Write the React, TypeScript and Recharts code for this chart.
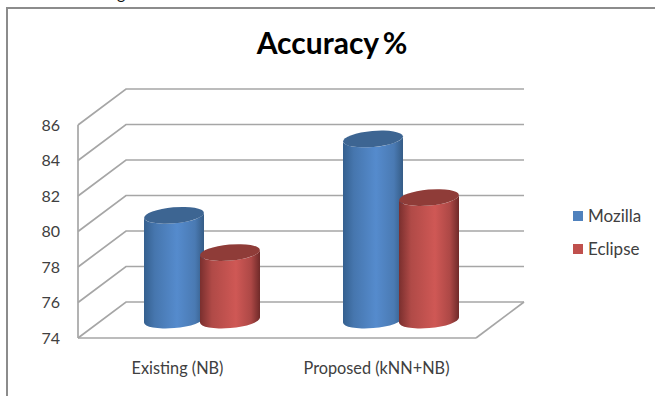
import { BarChart, Bar, CartesianGrid, Legend, XAxis, YAxis } from "recharts";

const categories = ["Existing (NB)", "Proposed (kNN+NB)"];
const mozilla = [79.9, 84.2];
const eclipse = [77.8, 80.9];
const accuracyTicks = [74, 76, 78, 80, 82, 84, 86];

const data = categories.map((name, i) => ({
  name,
  Mozilla: mozilla[i],
  Eclipse: eclipse[i],
}));

const FONT = "Lato, 'Open Sans', sans-serif";
const GRID = "#a6a6a6";
const TEXT = "#404040";

// the floor recedes this far behind the axis plane
const DEPTH_X = 48;
const DEPTH_Y = 36;
const PLOT_BOTTOM = 338;

// one grid line: up the side wall, then along the back wall
function WallLine({ x1, y1, x2 }: any) {
  const floor = Math.abs(y1 - PLOT_BOTTOM) < 1;
  const bx = x1 + DEPTH_X;
  const by = y1 - DEPTH_Y;
  return (
    <g fill="none" stroke={GRID} strokeWidth={1.7}>
      <polyline points={`${x1},${y1} ${bx},${by} ${x2 + DEPTH_X},${by}`} />
      {floor && <line x1={x2} y1={y1} x2={x2 + DEPTH_X} y2={by} />}
    </g>
  );
}

// bars stand halfway into the floor, so the rect is shifted by half the depth
function Cylinder({ x, y, width, height, body, top }: any) {
  const left = x + DEPTH_X / 2;
  const right = left + width;
  const topY = y - DEPTH_Y / 2;
  const baseY = y + height - DEPTH_Y / 2;
  const rx = width / 2;
  const ry = 8;
  const tilt = 2.5;
  return (
    <g>
      <path
        d={`M${left},${topY + tilt} L${left},${baseY + tilt}
            A${rx},${ry} -5 0 0 ${right},${baseY - tilt}
            L${right},${topY - tilt}
            A${rx},${ry} -5 0 1 ${left},${topY + tilt} Z`}
        fill={`url(#${body})`}
      />
      <ellipse
        cx={left + rx}
        cy={topY}
        rx={rx}
        ry={ry}
        fill={top}
        transform={`rotate(-5 ${left + rx} ${topY})`}
      />
    </g>
  );
}

function LegendBox({ payload }: any) {
  return (
    <div style={{ fontFamily: FONT, fontSize: 17, color: TEXT }}>
      {payload.map((item: any) => (
        <div key={item.value} style={{ display: "flex", alignItems: "center", height: 33 }}>
          <span
            style={{ width: 10, height: 10, background: item.color, marginRight: 5 }}
          />
          {item.value}
        </div>
      ))}
    </div>
  );
}

export default function App() {
  return (
    <div
      style={{
        position: "absolute",
        left: 0,
        top: 0,
        width: 655,
        height: 396,
        background: "#fff",
        overflow: "hidden",
      }}
    >
      <div
        style={{
          position: "absolute",
          left: 117,
          top: -17,
          fontFamily: FONT,
          fontSize: 16,
          color: "#111",
        }}
      >
        g
      </div>
      <div
        style={{
          position: "absolute",
          left: 6,
          top: 7,
          width: 660,
          height: 400,
          borderLeft: "2px solid #8c8c8c",
          borderTop: "2px solid #8c8c8c",
        }}
      />
      <div
        style={{
          position: "absolute",
          left: 0,
          width: 664,
          top: 24,
          textAlign: "center",
          fontFamily: FONT,
          fontWeight: 700,
          fontSize: 30,
          wordSpacing: -3,
          lineHeight: "36px",
          color: "#000",
        }}
      >
        Accuracy %
      </div>
      <BarChart
        width={655}
        height={396}
        data={data}
        margin={{ top: 125, right: 99, left: 38, bottom: 28 }}
        barSize={60}
        barGap={-4}
        style={{ position: "absolute", left: 0, top: 0 }}
      >
        <defs>
          <linearGradient id="mozillaBody" x1="0" y1="0" x2="1" y2="0">
            <stop offset="0" stopColor="#35608f" />
            <stop offset="0.18" stopColor="#4676ae" />
            <stop offset="0.55" stopColor="#558bcd" />
            <stop offset="0.85" stopColor="#4a7ab3" />
            <stop offset="1" stopColor="#355c86" />
          </linearGradient>
          <linearGradient id="eclipseBody" x1="0" y1="0" x2="1" y2="0">
            <stop offset="0" stopColor="#7a2f2e" />
            <stop offset="0.2" stopColor="#b04a47" />
            <stop offset="0.6" stopColor="#cf5855" />
            <stop offset="0.85" stopColor="#ad4846" />
            <stop offset="1" stopColor="#6f2a29" />
          </linearGradient>
        </defs>
        <CartesianGrid vertical={false} horizontal={(props: any) => <WallLine {...props} key={props.key} />} />
        <XAxis
          dataKey="name"
          axisLine={{ stroke: GRID, strokeWidth: 1.7 }}
          tickLine={false}
          tickMargin={18}
          height={30}
          tick={{ fill: TEXT, fontSize: 16.3, fontFamily: FONT }}
        />
        <YAxis
          type="number"
          domain={[74, 86]}
          ticks={accuracyTicks}
          width={40}
          axisLine={{ stroke: GRID, strokeWidth: 1.7 }}
          tickLine={false}
          tickSize={0}
          tickMargin={18}
          tick={{ fill: TEXT, fontSize: 16, fontFamily: FONT }}
        />
        <Legend
          layout="vertical"
          align="right"
          verticalAlign="top"
          itemSorter={null as any}
          wrapperStyle={{ position: "absolute", left: 573, top: 199, width: 80 }}
          content={(props: any) => <LegendBox {...props} />}
        />
        <Bar
          dataKey="Mozilla"
          fill="#4F81BD"
          isAnimationActive={false}
          shape={(props: any) => <Cylinder {...props} body="mozillaBody" top="#3d6592" />}
        />
        <Bar
          dataKey="Eclipse"
          fill="#C0504D"
          isAnimationActive={false}
          shape={(props: any) => <Cylinder {...props} body="eclipseBody" top="#8f3c38" />}
        />
      </BarChart>
    </div>
  );
}
